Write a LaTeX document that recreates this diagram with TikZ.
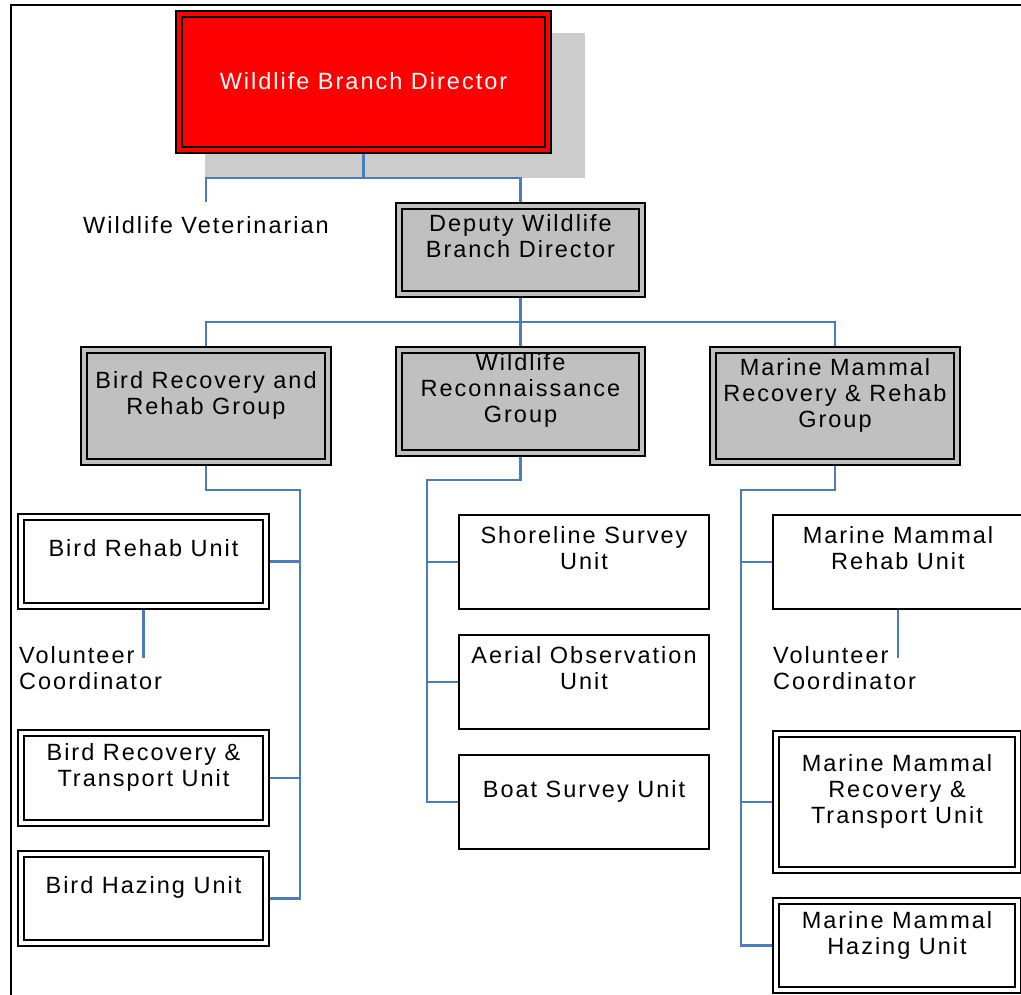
\documentclass[tikz,border=0pt]{standalone}
\usepackage{fontspec}
\setmainfont{Liberation Sans}[LetterSpace=8.5]
\usetikzlibrary{backgrounds}
\definecolor{connblue}{RGB}{74,126,187}
\definecolor{grpgray}{RGB}{192,192,192}
\definecolor{shadowgray}{RGB}{204,204,204}
\tikzset{
  dbl/.style={rectangle, draw=black, line width=2.2pt, double distance=3.5pt, inner sep=0pt, outer sep=0pt},
  dirbox/.style={dbl, double=red, fill=red},
  grpbox/.style={dbl, double=grpgray, fill=grpgray},
  unitdbl/.style={dbl, double=white, fill=white},
  unitsgl/.style={rectangle, draw=black, line width=2pt, fill=white, inner sep=0pt, outer sep=0pt},
  txt/.style={font=\fontsize{23.5}{26}\selectfont, align=center, inner sep=0pt, text=black},
  conn/.style={draw=connblue, line width=2.4pt},
}
\begin{document}
\begin{tikzpicture}[x=1pt,y=-1pt]
\useasboundingbox (0,0) rectangle (1021,995);

% boxes
\node[dirbox, minimum width=369pt, minimum height=136pt] (dir) at (363.5,82) {};
\node[grpbox, minimum width=243pt, minimum height=88pt] (dep) at (520.5,250) {};
\node[grpbox, minimum width=244pt, minimum height=112pt] (bg) at (206,406) {};
\node[grpbox, minimum width=243pt, minimum height=103pt] (rg) at (520.5,401.5) {};
\node[grpbox, minimum width=244pt, minimum height=112pt] (mg) at (835,406) {};

\node[unitdbl, minimum width=245pt, minimum height=89pt] (brh) at (143.5,561.5) {};
\node[unitdbl, minimum width=245pt, minimum height=90pt] (brt) at (143.5,778) {};
\node[unitdbl, minimum width=245pt, minimum height=89pt] (bhz) at (143.5,898.5) {};

\node[unitsgl, minimum width=250pt, minimum height=94pt] (sh) at (584,562) {};
\node[unitsgl, minimum width=250pt, minimum height=94pt] (ao) at (584,682) {};
\node[unitsgl, minimum width=250pt, minimum height=94pt] (bs) at (584,802) {};

\node[unitsgl, minimum width=250pt, minimum height=94pt] (mrh) at (898,562) {};
\node[unitdbl, minimum width=242pt, minimum height=136pt] (mrt) at (897,802) {};
\node[unitdbl, minimum width=242pt, minimum height=89pt] (mhz) at (897,945.5) {};

% texts
\node[txt, text=white] (dirT) at (363.5,81) {Wildlife Branch Director};
\node[txt] (depT) at (520.5,236) {Deputy Wildlife\\Branch Director};
\node[txt] (bgT) at (206,395) {Bird Recovery and\\Rehab Group};
\node[txt] (rgT) at (520.5,390.5) {Wildlife\\Reconnaissance\\Group};
\node[txt] (mgT) at (835,395) {Marine Mammal\\Recovery \& Rehab\\Group};
\node[txt] (brhT) at (143.5,548) {Bird Rehab Unit};
\node[txt] (brtT) at (143.5,767) {Bird Recovery \&\\Transport Unit};
\node[txt] (bhzT) at (143.5,887) {Bird Hazing Unit};
\node[txt] (shT) at (584,548) {Shoreline Survey\\Unit};
\node[txt] (aoT) at (584,668) {Aerial Observation\\Unit};
\node[txt] (bsT) at (584,791) {Boat Survey Unit};
\node[txt] (mrhT) at (898,548) {Marine Mammal\\Rehab Unit};
\node[txt] (mrtT) at (897,791) {Marine Mammal\\Recovery \&\\Transport Unit};
\node[txt] (mhzT) at (897,935) {Marine Mammal\\Hazing Unit};
\node[txt] (vet) at (206,225) {Wildlife Veterinarian};
\node[txt, align=left, anchor=west] (bvc) at (19,668) {Volunteer\\Coordinator};
\node[txt, align=left, anchor=west] (mvc) at (773,668) {Volunteer\\Coordinator};

% junction coordinates
\coordinate (j1) at (363.5,178);
\coordinate (vettop) at (206,202);
\coordinate (j2) at (520.5,322);
\coordinate (bsp) at (300,490);
\coordinate (rsp) at (427,480);
\coordinate (msp) at (741,490);
\coordinate (bvcend) at (143.5,658);
\coordinate (mvcend) at (898,658);

\begin{pgfonlayer}{background}
\fill[white] (0,0) rectangle (1021,995);
\fill[shadowgray] (205,33) rectangle (585,178);
\draw[conn] (dir.south) -- (j1) -| (dep.north);
\draw[conn] (j1) -| (vettop);
\draw[conn] (dep.south) -- (j2) -| (bg.north);
\draw[conn] (j2) -| (mg.north);
\draw[conn] (j2) -- (rg.north);
\draw[conn] (bg.south) |- (bsp) -- (bsp |- bhz.east) -- (bhz.east);
\draw[conn] (brh.east) -- (brh.east -| bsp);
\draw[conn] (brt.east) -- (brt.east -| bsp);
\draw[conn] (brh.south) -- (bvcend);
\draw[conn] (rg.south) |- (rsp) -- (rsp |- bs.west) -- (bs.west);
\draw[conn] (sh.west) -- (sh.west -| rsp);
\draw[conn] (ao.west) -- (ao.west -| rsp);
\draw[conn] (mg.south) |- (msp) -- (msp |- mhz.west) -- (mhz.west);
\draw[conn] (mrh.west) -- (mrh.west -| msp);
\draw[conn] (mrt.west) -- (mrt.west -| msp);
\draw[conn] (mrh.south) -- (mvcend);
\end{pgfonlayer}

% frame
\draw[line width=2pt] (11,1000) -- (11,5) -- (1030,5);
\end{tikzpicture}
\end{document}
